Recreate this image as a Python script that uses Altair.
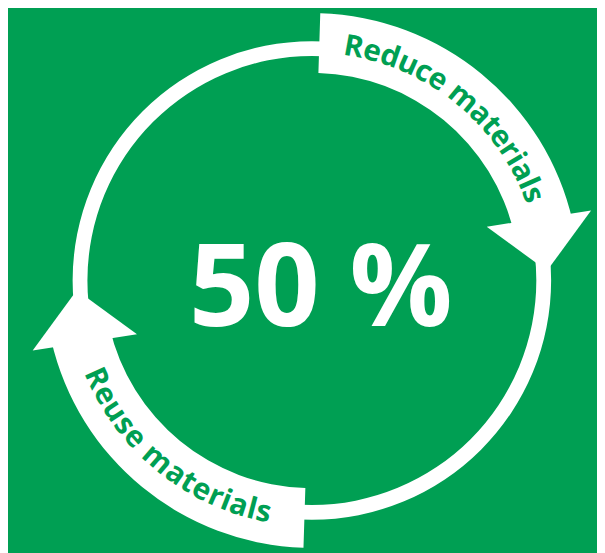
import math
import altair as alt
import pandas as pd

# ---- content ----
center_value = ["50 %"]
arrow_labels = ["Reduce materials", "Reuse materials"]

# ---- layout / style constants ----
GREEN = "#009F53"
WHITE = "#FFFFFF"
W, H = 597, 545
CX, CY = 308, 272.5           # circle centre inside the plot area
RING_IN, RING_OUT = 227.5, 242.5
BAND_IN, BAND_OUT = 210.5, 271
band_start_deg = [1.8, 181.8]
band_end_deg = [77, 257]
head_theta_deg = [81.2, 261.2]
HEAD_R = 237
HEAD_W = 107
label_first_deg = [10.2, 245.6]   # centre of first character
label_dir = [1, -1]               # clockwise / counter-clockwise reading
label_rot_offset = [0, 180]       # tops outward / tops inward
FS = 30
TEXT_R = 240
SPREAD = 1.03

# approximate advance widths (em) of Open Sans Bold
CW = {" ": 0.26, "R": 0.66, "e": 0.58, "d": 0.635, "u": 0.635, "c": 0.495,
      "m": 0.958, "a": 0.59, "t": 0.418, "r": 0.442, "i": 0.297, "l": 0.297,
      "s": 0.493}

# ---- arcs: thin ring + two thick bands ----
arc_rows = [{"t0": 0.0, "t1": 2 * math.pi, "r_in": RING_IN, "r_out": RING_OUT}]
for s, e in zip(band_start_deg, band_end_deg):
    arc_rows.append({"t0": math.radians(s), "t1": math.radians(e),
                     "r_in": BAND_IN, "r_out": BAND_OUT})
arcs = pd.DataFrame(arc_rows)

arc_layer = alt.Chart(arcs).mark_arc(color=WHITE, strokeWidth=0).encode(
    theta=alt.Theta("t0:Q", scale=None),
    theta2="t1:Q",
    radius=alt.Radius("r_out:Q", scale=None),
    radius2="r_in:Q",
    x=alt.value(CX),
    y=alt.value(CY),
)

# ---- arrow heads ----
heads = pd.DataFrame({"theta": head_theta_deg, "r": [HEAD_R] * len(head_theta_deg)})
TRI = "M-1,-0.5L1,-0.5L0,0.5Z"
head_layer = alt.Chart(heads).transform_calculate(
    px=f"{CX} + datum.r * sin(datum.theta * PI / 180)",
    py=f"{CY} - datum.r * cos(datum.theta * PI / 180)",
    rot="(datum.theta + 270) % 360",
).mark_point(shape=TRI, size=HEAD_W * HEAD_W, filled=True, opacity=1,
             color=WHITE, strokeWidth=0).encode(
    x=alt.X("px:Q", scale=None, axis=None),
    y=alt.Y("py:Q", scale=None, axis=None),
    angle=alt.Angle("rot:Q", scale=None),
)

# ---- curved labels, one character per text mark ----
rows = []
for label, first, d, off in zip(arrow_labels, label_first_deg, label_dir, label_rot_offset):
    pos = 0.0
    first_w = CW.get(label[0], 0.55)
    for i, ch in enumerate(label):
        w = CW.get(ch, 0.55)
        centre = (pos + w / 2 - first_w / 2) * SPREAD
        ang = first + d * math.degrees(centre * FS / TEXT_R)
        pos += w
        if ch == " ":
            continue
        rows.append({"ch": ch, "th": math.radians(ang), "r": TEXT_R,
                     "rot": (ang - off) % 360})
chars = pd.DataFrame(rows)

label_layer = alt.Chart(chars).mark_text(
    font="Open Sans", fontWeight=700, fontSize=FS, color=GREEN,
    align="center", baseline="middle",
).encode(
    text="ch:N",
    theta=alt.Theta("th:Q", scale=None),
    radius=alt.Radius("r:Q", scale=None),
    angle=alt.Angle("rot:Q", scale=None),
    x=alt.value(CX),
    y=alt.value(CY),
)

# ---- centre value ----
center_layer = alt.Chart(pd.DataFrame({"v": center_value})).mark_text(
    font="Open Sans", fontWeight=700, fontSize=116, color=WHITE,
    align="center", baseline="alphabetic",
).encode(
    text="v:N",
    x=alt.value(317),
    y=alt.value(319),
)

chart = alt.layer(arc_layer, head_layer, label_layer, center_layer).properties(
    width=W, height=H, background=GREEN, padding=0,
    autosize=alt.AutoSizeParams(type="none"),
).configure_view(strokeWidth=0)

chart.save("out.html", embed_options={"renderer": "svg", "actions": False})
